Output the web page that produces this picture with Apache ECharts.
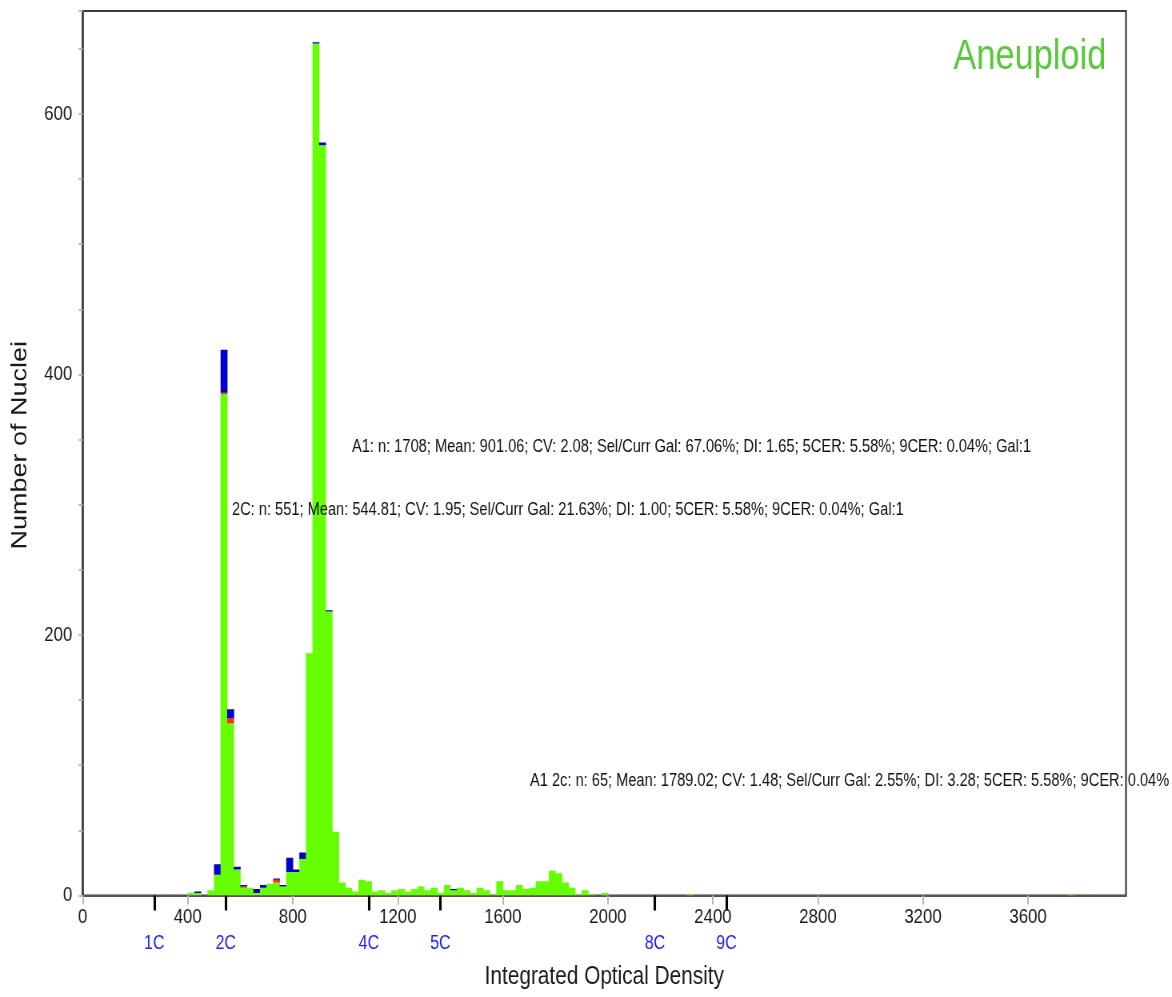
<!DOCTYPE html>
<html>
<head>
<meta charset="utf-8">
<script src="https://cdn.jsdelivr.net/npm/echarts@6/dist/echarts.min.js"></script>
<style>
  html, body { margin: 0; padding: 0; background: #ffffff; overflow: hidden; }
  #frame { width: 1172px; height: 997px; overflow: hidden; position: relative; }
  /* the chart is laid out wide and condensed horizontally, giving the narrow-font look */
  #chart { width: 1465px; height: 997px; transform: scaleX(0.8); transform-origin: 0 0; }
</style>
</head>
<body>
<div id="frame"><div id="chart"></div></div>
<script>
// DNA ploidy histogram: nuclei counts per integrated-optical-density bin
const binWidth = 25;
const binStart = [
  400, 425, 475, 500, 525, 550, 575, 600, 625, 650, 675, 700, 725, 750, 775, 800, 825,
  850, 875, 900, 925, 950, 975, 1000, 1025, 1050, 1075, 1100, 1125, 1150, 1175,
  1200, 1225, 1250, 1275, 1300, 1325, 1350, 1375, 1400, 1425, 1450, 1475, 1500,
  1525, 1550, 1575, 1600, 1625, 1650, 1675, 1700, 1725, 1750, 1775, 1800, 1825,
  1850, 1875, 1900, 1925, 1975, 2300, 3750
];
const greenCounts = [
  2, 2, 4, 16, 385, 132, 20, 6, 6, 2, 6, 9, 10, 7, 18, 18, 28,
  186, 654, 576, 218, 49, 10, 6, 3, 12, 11, 3, 4, 2, 4,
  5, 3, 5, 7, 4, 6, 2, 8, 4, 6, 4, 2, 6,
  4, 1, 11, 4, 4, 8, 5, 6, 11, 11, 19, 17, 10,
  6, 1, 4, 1, 2, 1, 1
];
const redCounts = [
  0, 0, 0, 0, 1, 4, 0, 1, 0, 0, 0, 0, 2, 0, 0, 0, 0,
  0, 0, 0, 0, 0, 0, 0, 0, 0, 0, 0, 0, 0, 0,
  0, 0, 0, 0, 0, 0, 0, 0, 0, 0, 0, 0, 0,
  0, 0, 0, 0, 0, 0, 0, 0, 0, 0, 0, 0, 0,
  0, 0, 0, 0, 0, 0, 0
];
const blueCounts = [
  0, 1, 0, 8, 33, 7, 2, 1, 0, 3, 2, 0, 1, 1, 11, 2, 5,
  0, 1, 2, 1, 0, 0, 0, 0, 0, 0, 0, 0, 0, 0,
  0, 0, 0, 0, 0, 0, 0, 0, 1, 0, 0, 0, 0,
  0, 0, 0, 0, 0, 0, 0, 0, 0, 0, 0, 0, 0,
  0, 0, 0, 0, 0, 0, 0
];

const xTickValues = [0, 400, 800, 1200, 1600, 2000, 2400, 2800, 3200, 3600];
const yLabelValues = [0, 200, 400, 600];
const ploidyValues = [272.405, 544.81, 1089.62, 1362.025, 2179.24, 2451.645];
const ploidyLabels = ['1C', '2C', '4C', '5C', '8C', '9C'];

const statA1 = 'A1: n: 1708; Mean: 901.06; CV: 2.08; Sel/Curr Gal: 67.06%; DI: 1.65; 5CER: 5.58%; 9CER: 0.04%; Gal:1';
const stat2C = '2C: n: 551; Mean: 544.81; CV: 1.95; Sel/Curr Gal: 21.63%; DI: 1.00; 5CER: 5.58%; 9CER: 0.04%; Gal:1';
const statA12c = 'A1 2c: n: 65; Mean: 1789.02; CV: 1.48; Sel/Curr Gal: 2.55%; DI: 3.28; 5CER: 5.58%; 9CER: 0.04%';

const SANS = "'Liberation Sans', Arial, sans-serif";
const GREEN = '#66ff00';
const RED = '#ff3300';
const BLUE = '#0000cc';

const histData = binStart.map((s, i) => [s, greenCounts[i], redCounts[i], blueCounts[i]]);

// stacked bin: green at the bottom, then red, then blue
function renderBin(params, api) {
  const x0 = api.value(0);
  const parts = [api.value(1), api.value(2), api.value(3)];
  const fills = [GREEN, RED, BLUE];
  const left = api.coord([x0, 0])[0];
  const right = api.coord([x0 + binWidth, 0])[0];
  const children = [];
  let base = 0;
  parts.forEach((v, k) => {
    if (!v) return;
    const yb = api.coord([x0, base])[1];
    const yt = api.coord([x0, base + v])[1];
    children.push({
      type: 'rect',
      shape: { x: left, y: yt, width: right - left + 0.5, height: yb - yt },
      style: { fill: fills[k] }
    });
    base += v;
  });
  return { type: 'group', children };
}

const statStyle = { fontSize: 18.3, fontFamily: SANS, fill: '#111111', verticalAlign: 'middle' };

const chart = echarts.init(document.getElementById('chart'));
chart.setOption({
  backgroundColor: '#ffffff',
  animation: false,
  title: {
    text: 'Aneuploid',
    right: 77,
    top: 31,
    textStyle: { color: '#5ac83c', fontSize: 43, fontWeight: 'normal', fontFamily: SANS }
  },
  grid: {
    left: 103.4, right: 57.5, top: 11, bottom: 101.5,
    show: true, borderColor: '#3c3c3c', borderWidth: 2.2, backgroundColor: 'transparent'
  },
  xAxis: [
    {
      type: 'value', min: 0, max: 3973, position: 'bottom',
      name: 'Integrated Optical Density', nameLocation: 'middle', nameGap: 68,
      nameTextStyle: { fontSize: 26, fontFamily: SANS, color: '#1a1a1a' },
      axisLine: { show: true, lineStyle: { color: '#555555', width: 2 } },
      axisTick: { show: true, customValues: xTickValues, length: 9, lineStyle: { color: '#b5b5b5', width: 1.9 } },
      axisLabel: {
        customValues: xTickValues, margin: 11, fontSize: 21, fontFamily: SANS, color: '#1a1a1a',
        formatter: (v) => String(v)
      },
      splitLine: { show: false }
    },
    {
      type: 'value', min: 0, max: 3973, position: 'bottom',
      axisLine: { show: false },
      axisTick: { show: true, customValues: ploidyValues, length: 15, lineStyle: { color: '#000000', width: 3.1 } },
      axisLabel: {
        customValues: ploidyValues, margin: 38, fontSize: 20, fontFamily: SANS, color: '#2222ff',
        formatter: (v) => {
          const i = ploidyValues.findIndex(p => Math.abs(p - v) < 0.01);
          return i >= 0 ? ploidyLabels[i] : '';
        }
      },
      splitLine: { show: false }
    }
  ],
  yAxis: {
    type: 'value', min: 0, max: 679, interval: 50,
    name: 'Number of Nuclei', nameLocation: 'middle', nameGap: 64,
    nameTextStyle: { fontSize: 27, fontFamily: SANS, color: '#1a1a1a', padding: [0, 0, 0, 16] },
    axisLine: { show: true, lineStyle: { color: '#3c3c3c', width: 2.5 } },
    axisTick: { show: true, length: 5, lineStyle: { color: '#b5b5b5', width: 1.9 } },
    axisLabel: {
      customValues: yLabelValues, margin: 13, fontSize: 21, fontFamily: SANS, color: '#1a1a1a',
      formatter: (v) => String(v)
    },
    splitLine: { show: false }
  },
  series: [{
    type: 'custom',
    name: 'Nuclei',
    renderItem: renderBin,
    clip: true,
    encode: { x: 0, y: [1, 2, 3] },
    data: histData
  }],
  graphic: [
    { type: 'text', z: 100, x: 440, y: 447, style: Object.assign({ text: statA1 }, statStyle) },
    { type: 'text', z: 100, x: 290, y: 510, style: Object.assign({ text: stat2C }, statStyle) },
    { type: 'text', z: 100, x: 662.5, y: 781, style: Object.assign({ text: statA12c }, statStyle) }
  ]
});
</script>
</body>
</html>
